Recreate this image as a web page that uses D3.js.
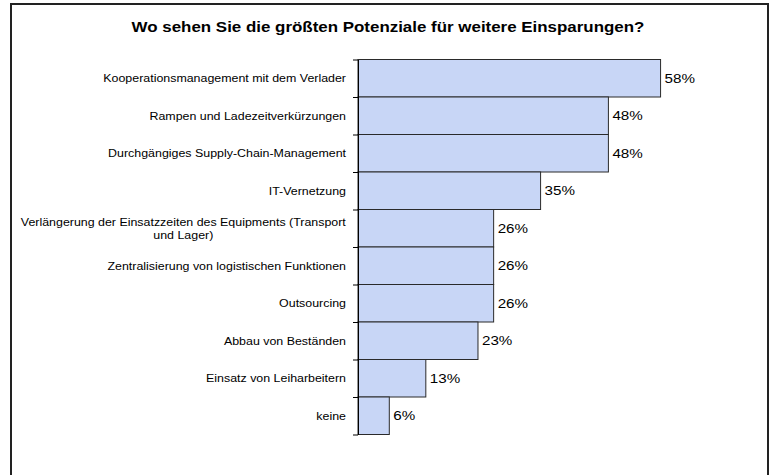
<html>
<head>
<script src="https://cdnjs.cloudflare.com/ajax/libs/d3/7.8.5/d3.min.js"></script>
<style>
  body { margin: 0; background: #fff; }
  text { font-family: "Liberation Sans", Arial, sans-serif; fill: #000; }
</style>
</head>
<body>
<div class="chart"></div>
<script>
const width = 775;
const height = 475;

// data
const categories = [
  "Kooperationsmanagement mit dem Verlader",
  "Rampen und Ladezeitverkürzungen",
  "Durchgängiges Supply-Chain-Management",
  "IT-Vernetzung",
  "Verlängerung der Einsatzzeiten des Equipments (Transport und Lager)",
  "Zentralisierung von logistischen Funktionen",
  "Outsourcing",
  "Abbau von Beständen",
  "Einsatz von Leiharbeitern",
  "keine"
];
const values = [0.58, 0.48, 0.48, 0.35, 0.26, 0.26, 0.26, 0.23, 0.13, 0.06];
const title = "Wo sehen Sie die größten Potenziale für weitere Einsparungen?";

// the original chart is stretched sideways, so its text is too
const sxTitle = 1.21;
const sxLabel = 1.08;
const sxValue = 1.17;

const svg = d3.select(".chart").append("svg")
  .attr("width", width)
  .attr("height", height);

// outer frame
svg.append("rect")
  .attr("x", 11).attr("y", 4)
  .attr("width", 757).attr("height", 490)
  .attr("fill", "#fff")
  .attr("stroke", "#222")
  .attr("stroke-width", 2);

svg.append("text")
  .attr("transform", `translate(388,31.5) scale(${sxTitle},1)`)
  .attr("text-anchor", "middle")
  .style("font-size", "14px")
  .style("font-weight", "bold")
  .text(title);

const x = d3.scaleLinear().domain([0, 0.6]).range([358, 671]);
const y = d3.scaleBand().domain(d3.range(categories.length)).range([59.5, 434.5]).padding(0);
const yEdge = d3.scaleLinear().domain([0, categories.length]).range([59.5, 434.5]);

// bars
svg.append("g").selectAll("rect")
  .data(values)
  .join("rect")
  .attr("x", x(0))
  .attr("y", (d, i) => y(i))
  .attr("width", d => x(d) - x(0))
  .attr("height", y.bandwidth())
  .attr("fill", "#c8d6f6")
  .attr("stroke", "#2a2a2a")
  .attr("stroke-width", 1);

// category axis with ticks on the band edges
const axis = svg.append("g")
  .attr("transform", `translate(${x(0)},0)`)
  .call(d3.axisLeft(yEdge).ticks(categories.length).tickSize(5).tickSizeOuter(0).tickFormat(""));
axis.select(".domain").attr("stroke", "#000");
axis.selectAll(".tick line").attr("stroke", "#000");

// value labels
svg.append("g").selectAll("text")
  .data(values)
  .join("text")
  .attr("transform", (d, i) => `translate(${x(d) + 4},${y(i) + y.bandwidth() / 2}) scale(${sxValue},1)`)
  .attr("dy", "0.36em")
  .style("font-size", "13px")
  .text(d => Math.round(d * 100) + "%");

// category labels, wrapped like Excel does
const labelRight = 346;
const maxW = 336;
const lineH = 12.5;
categories.forEach((c, i) => {
  const cy = y(i) + y.bandwidth() / 2;
  const t = svg.append("text")
    .style("font-size", "11.5px");
  const words = c.split(" ");
  const lines = [];
  let cur = [];
  const probe = t.append("tspan");
  words.forEach(w => {
    probe.text(cur.concat(w).join(" "));
    if (cur.length && probe.node().getComputedTextLength() * sxLabel > maxW) {
      lines.push(cur.join(" "));
      cur = [w];
    } else {
      cur.push(w);
    }
  });
  lines.push(cur.join(" "));
  probe.remove();

  if (lines.length === 1) {
    t.attr("transform", `translate(${labelRight},${cy}) scale(${sxLabel},1)`)
      .attr("text-anchor", "end")
      .attr("dy", "0.36em")
      .text(lines[0]);
  } else {
    // multi-line labels are centred on the widest line
    const m = svg.append("text").style("font-size", "11.5px").text(lines[0]);
    const w0 = m.node().getComputedTextLength() * sxLabel;
    m.remove();
    const cx = labelRight - w0 / 2;
    t.attr("transform", `translate(${cx},${cy}) scale(${sxLabel},1)`)
      .attr("text-anchor", "middle");
    lines.forEach((l, k) => {
      t.append("tspan")
        .attr("x", 0)
        .attr("y", (k - (lines.length - 1) / 2) * lineH)
        .attr("dy", "0.36em")
        .text(l);
    });
  }
});
</script>
</body>
</html>
